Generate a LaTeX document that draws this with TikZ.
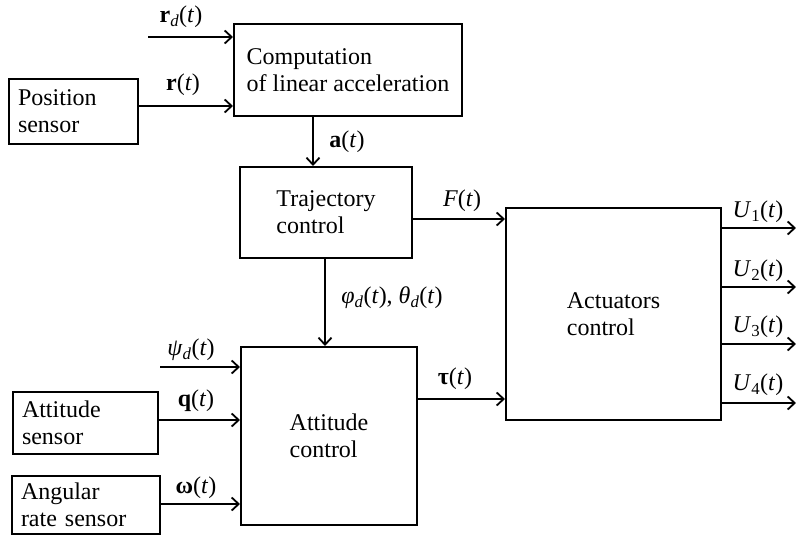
\documentclass[tikz,border=0pt]{standalone}
\usepackage{fontspec}
\setmainfont{Liberation Serif}
\usetikzlibrary{arrows.meta}
\newcommand{\vt}{\textit{t}}
\begin{document}
\begin{tikzpicture}[x=1pt,y=-1pt,
  every node/.style={font=\fontsize{24}{27}\selectfont},
  blk/.style={draw,line width=2pt,inner sep=0pt,align=left},
  sens/.style={draw,line width=2pt,inner xsep=9pt,inner ysep=0pt,align=left},
  lbl/.style={inner sep=0pt},
  arr/.style={line width=1.8pt,-{Straight Barb[length=7pt,width=13pt,line width=1.8pt]}},
  ln/.style={line width=1.8pt}]
\useasboundingbox (0,0) rectangle (796,535);
% blocks
\node[blk,minimum width=228,minimum height=92] (comp) at (348,70) {Computation\\of linear acceleration};
\node[sens,minimum width=129,minimum height=65,text width=111] (pos) at (73.5,111.5) {Position\\sensor};
\node[blk,minimum width=172,minimum height=91] (traj) at (326,212.5) {Trajectory\\control};
\node[blk,minimum width=176,minimum height=178] (att) at (329,436) {Attitude\\control};
\node[sens,minimum width=145,minimum height=62,text width=127] (asens) at (85.5,423) {Attitude\\sensor};
\node[sens,minimum width=148,minimum height=58,text width=130] (arate) at (86,504.5) {Angular\\rate sensor};
\node[blk,minimum width=215,minimum height=212] (act) at (613.5,314) {Actuators\\control};
% free ends
\coordinate (rdin) at (148,37);
\coordinate (psin) at (160,367);
\coordinate (u1) at (796,228);
\coordinate (u2) at (796,287);
\coordinate (u3) at (796,344);
\coordinate (u4) at (796,403);
% connectors
\draw[arr] (rdin) -- (comp.west |- rdin);
\draw[arr] (pos.east |- 0,106) -- (comp.west |- 0,106);
\draw[arr] (comp.south -| 313,0) -- (traj.north -| 313,0);
\draw[arr] (traj.east |- 0,219) -- (act.west |- 0,219);
\draw[arr] (traj.south -| 325,0) -- (att.north -| 325,0);
\draw[arr] (psin) -- (att.west |- psin);
\draw[arr] (asens.east |- 0,420) -- (att.west |- 0,420);
\draw[arr] (arate.east |- 0,504) -- (att.west |- 0,504);
\draw[arr] (att.east |- 0,399) -- (act.west |- 0,399);
\draw[arr] (act.east |- u1) -- (u1);
\draw[arr] (act.east |- u2) -- (u2);
\draw[arr] (act.east |- u3) -- (u3);
\draw[arr] (act.east |- u4) -- (u4);
% labels
\node[lbl] (lrd) at (181,17) {\textbf{r}\textsubscript{\textit{d}}(\vt)};
\node[lbl] (lr) at (183,85) {\textbf{r}(\vt)};
\node[lbl] (la) at (347,142) {\textbf{a}(\vt)};
\node[lbl] (lF) at (462,201) {\textit{F}(\vt)};
\node[lbl] (lphi) at (392,298) {\textit{φ}\textsubscript{\textit{d}}(\vt), \textit{θ}\textsubscript{\textit{d}}(\vt)};
\node[lbl] (lpsi) at (191,350) {\textit{ψ}\textsubscript{\textit{d}}(\vt)};
\node[lbl] (lq) at (196,401) {\textbf{q}(\vt)};
\node[lbl] (lw) at (196,488) {\textbf{ω}(\vt)};
\node[lbl] (ltau) at (455,379) {\textbf{τ}(\vt)};
\node[lbl] (lu1) at (758,212) {\textit{U}\textsubscript{1}(\vt)};
\node[lbl] (lu2) at (758,271) {\textit{U}\textsubscript{2}(\vt)};
\node[lbl] (lu3) at (758,327) {\textit{U}\textsubscript{3}(\vt)};
\node[lbl] (lu4) at (758,385) {\textit{U}\textsubscript{4}(\vt)};
\end{tikzpicture}
\end{document}
